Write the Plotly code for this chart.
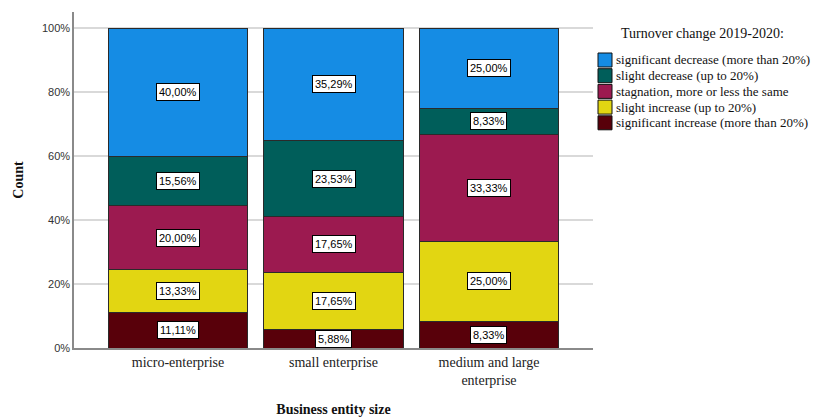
import plotly.graph_objects as go

# Business size categories (x axis)
categories = ["micro-enterprise", "small enterprise", "medium and large<br>enterprise"]

# Turnover change groups, stacked bottom to top
groups = [
    "significant increase (more than 20%)",
    "slight increase (up to 20%)",
    "stagnation, more or less the same",
    "slight decrease (up to 20%)",
    "significant decrease (more than 20%)",
]

# Share of each group within each size category (percent)
sig_increase = [11.11, 5.88, 8.33]
slight_increase = [13.33, 17.65, 25.00]
stagnation = [20.00, 17.65, 33.33]
slight_decrease = [15.56, 23.53, 8.33]
sig_decrease = [40.00, 35.29, 25.00]

series = [sig_increase, slight_increase, stagnation, slight_decrease, sig_decrease]
colors = ["#58000A", "#E2D612", "#9C1A50", "#005E5A", "#158CE4"]

y_ticks = [0, 0.2, 0.4, 0.6, 0.8, 1.0]
y_tick_labels = ["0%", "20%", "40%", "60%", "80%", "100%"]

fig = go.Figure()
for name, vals, col in zip(groups, series, colors):
    fig.add_trace(go.Bar(
        x=categories,
        y=[v / 100 for v in vals],
        name=name,
        marker=dict(color=col, line=dict(color="#2a2a2a", width=1)),
        width=0.9,
        showlegend=False,
    ))

# Boxed percentage labels at the middle of each segment
annotations = []
for i, cat in enumerate(categories):
    base = 0.0
    for vals in series:
        v = vals[i] / 100
        annotations.append(dict(
            x=cat, y=base + v / 2, xref="x", yref="y",
            text=f"{vals[i]:.2f}%".replace(".", ","),
            showarrow=False,
            font=dict(family="Liberation Sans", size=11, color="#000"),
            bgcolor="#ffffff", bordercolor="#000000", borderwidth=1, borderpad=2,
        ))
        base += v

# Legend drawn beside the plot area (top entry = top of the stack)
W, H = 815, 417
ml, mr, mt, mb = 74, 222, 12, 69
pw, ph = W - ml - mr, H - mt - mb

def px_x(px):
    return (px - ml) / pw

def px_y(py):
    return 1 - (py - mt) / ph

shapes = []
annotations.append(dict(
    x=px_x(619), y=px_y(33), xref="paper", yref="paper",
    xanchor="left", yanchor="middle", showarrow=False,
    text="Turnover change 2019-2020:",
    font=dict(family="Liberation Serif", size=14, color="#111"),
))
legend_items = list(zip(groups, colors))[::-1]
for k, (name, col) in enumerate(legend_items):
    top = 53 + k * 15.7
    shapes.append(dict(
        type="rect", xref="paper", yref="paper",
        x0=px_x(598), x1=px_x(612), y0=px_y(top + 14), y1=px_y(top),
        fillcolor=col, line=dict(color="#111", width=1),
    ))
    annotations.append(dict(
        x=px_x(614), y=px_y(top + 7), xref="paper", yref="paper",
        xanchor="left", yanchor="middle", showarrow=False,
        text=name,
        font=dict(family="Liberation Serif", size=13, color="#111"),
    ))

fig.update_layout(
    barmode="stack",
    width=W, height=H,
    margin=dict(l=ml, r=mr, t=mt, b=mb),
    plot_bgcolor="#ffffff",
    paper_bgcolor="#ffffff",
    showlegend=False,
    annotations=annotations,
    shapes=shapes,
    xaxis=dict(
        range=[-0.669, 2.669],
        automargin=False,
        showline=True, linecolor="#8a8a8a", linewidth=1.5,
        ticks="", showgrid=False,
        tickfont=dict(family="Liberation Serif", size=14, color="#222"),
        title=dict(text="<b>Business entity size</b>", standoff=19,
                   font=dict(family="Liberation Serif", size=14, color="#111")),
    ),
    yaxis=dict(
        range=[0, 1.05],
        automargin=False,
        tickvals=y_ticks, ticktext=y_tick_labels,
        showline=True, linecolor="#8a8a8a", linewidth=1.5,
        showgrid=True, gridcolor="#d9d9d9", gridwidth=1.5,
        zeroline=False,
        ticks="", ticklen=0,
        tickfont=dict(family="Liberation Sans", size=11, color="#333"),
        title=dict(text="<b>Count</b>", standoff=15,
                   font=dict(family="Liberation Serif", size=14, color="#111")),
    ),
)

fig.write_html("out.html")
